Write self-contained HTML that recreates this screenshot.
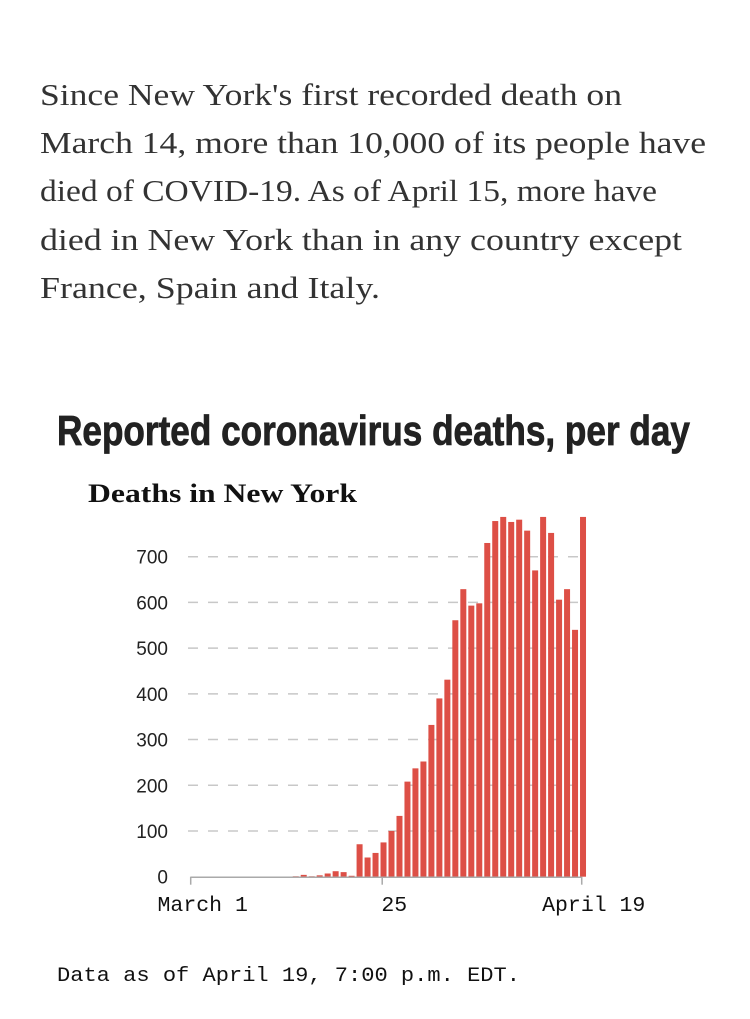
<!DOCTYPE html>
<html><head><meta charset="utf-8"><style>
html,body{margin:0;padding:0;background:#fff;width:750px;height:1019px;overflow:hidden}
svg{display:block}
</style></head><body>
<svg id="chart" width="750" height="1019" xmlns="http://www.w3.org/2000/svg">
<g font-family="'Liberation Serif', serif" font-size="31" fill="#333">
<text x="40" y="105" textLength="582" lengthAdjust="spacingAndGlyphs">Since New York's first recorded death on</text>
<text x="40" y="153" textLength="666" lengthAdjust="spacingAndGlyphs">March 14, more than 10,000 of its people have</text>
<text x="40" y="201" textLength="617" lengthAdjust="spacingAndGlyphs">died of COVID-19. As of April 15, more have</text>
<text x="40" y="250" textLength="642" lengthAdjust="spacingAndGlyphs">died in New York than in any country except</text>
<text x="40" y="298" textLength="340" lengthAdjust="spacingAndGlyphs">France, Spain and Italy.</text>
</g>
<text x="57" y="445" font-family="'Liberation Sans Narrow','Liberation Sans',sans-serif" font-weight="bold" font-size="42" fill="#222" stroke="#222" stroke-width="0.8" textLength="633" lengthAdjust="spacingAndGlyphs">Reported coronavirus deaths, per day</text>
<text x="88" y="502" font-family="'Liberation Serif',serif" font-weight="bold" font-size="26" fill="#111" textLength="269" lengthAdjust="spacingAndGlyphs">Deaths in New York</text>
<g id="grid"></g><g id="bars"></g><g id="axes"></g>
<text x="57" y="981" font-family="'Liberation Mono',monospace" font-size="20" fill="#111" textLength="463" lengthAdjust="spacingAndGlyphs">Data as of April 19, 7:00 p.m. EDT.</text>
</svg>
<script>
const yTicks=[0,100,200,300,400,500,600,700];
const dayOffsets=[13,14,15,16,17,18,19,20,21,22,23,24,25,26,27,28,29,30,31,32,33,34,35,36,37,38,39,40,41,42,43,44,45,46,47,48,49];
const deaths=[1,4,1,3,7,12,10,2,71,42,52,75,100,133,208,237,252,332,390,431,561,629,593,598,730,778,787,776,781,757,670,787,752,606,629,540,787];
const xTickDays=[0,24,49];
const xTickLabels=["March 1","25","April 19"];
const NS="http://www.w3.org/2000/svg";
const x0=190.7,pxDay=7.98,y0=876.7,pxUnit=320/700;
const X=d=>x0+d*pxDay, Y=v=>y0-v*pxUnit;
function mk(tag,attrs,parent){const e=document.createElementNS(NS,tag);for(const k in attrs)e.setAttribute(k,attrs[k]);parent.appendChild(e);return e;}
const grid=document.getElementById('grid'),bars=document.getElementById('bars'),axes=document.getElementById('axes');
yTicks.forEach(t=>{
  if(t>0){const l=mk('line',{x1:188,x2:584,y1:Y(t),y2:Y(t),stroke:'#c8c8c8','stroke-width':1.5,'stroke-dasharray':'10 10'},grid);
  
  }
  const tx=mk('text',{x:168,y:Y(t)+7,'text-anchor':'end','font-family':"'Liberation Sans',sans-serif",'font-size':19,fill:'#222'},grid);
  tx.textContent=t;
  
  
});
dayOffsets.forEach((d,i)=>{
  const h=deaths[i]*pxUnit;
  const r=mk('rect',{x:X(d)-1.7,y:y0-h,width:6,height:h,fill:'#dd4f46'},bars);
  
  
});
const ax=mk('line',{x1:x0,x2:X(49),y1:y0+0.5,y2:y0+0.5,stroke:'#aaa','stroke-width':1.5},axes);


xTickDays.forEach((d,i)=>{
  const t=mk('line',{x1:X(d),x2:X(d),y1:y0,y2:y0+8,stroke:'#aaa','stroke-width':1.5},axes);
  
  
  const tx=mk('text',{x:X(d)+12,y:911,'text-anchor':'middle','font-family':"'Liberation Mono',monospace",'font-size':21.5,fill:'#111'},axes);
  tx.textContent=xTickLabels[i];
  
  
});
</script>
</body></html>
